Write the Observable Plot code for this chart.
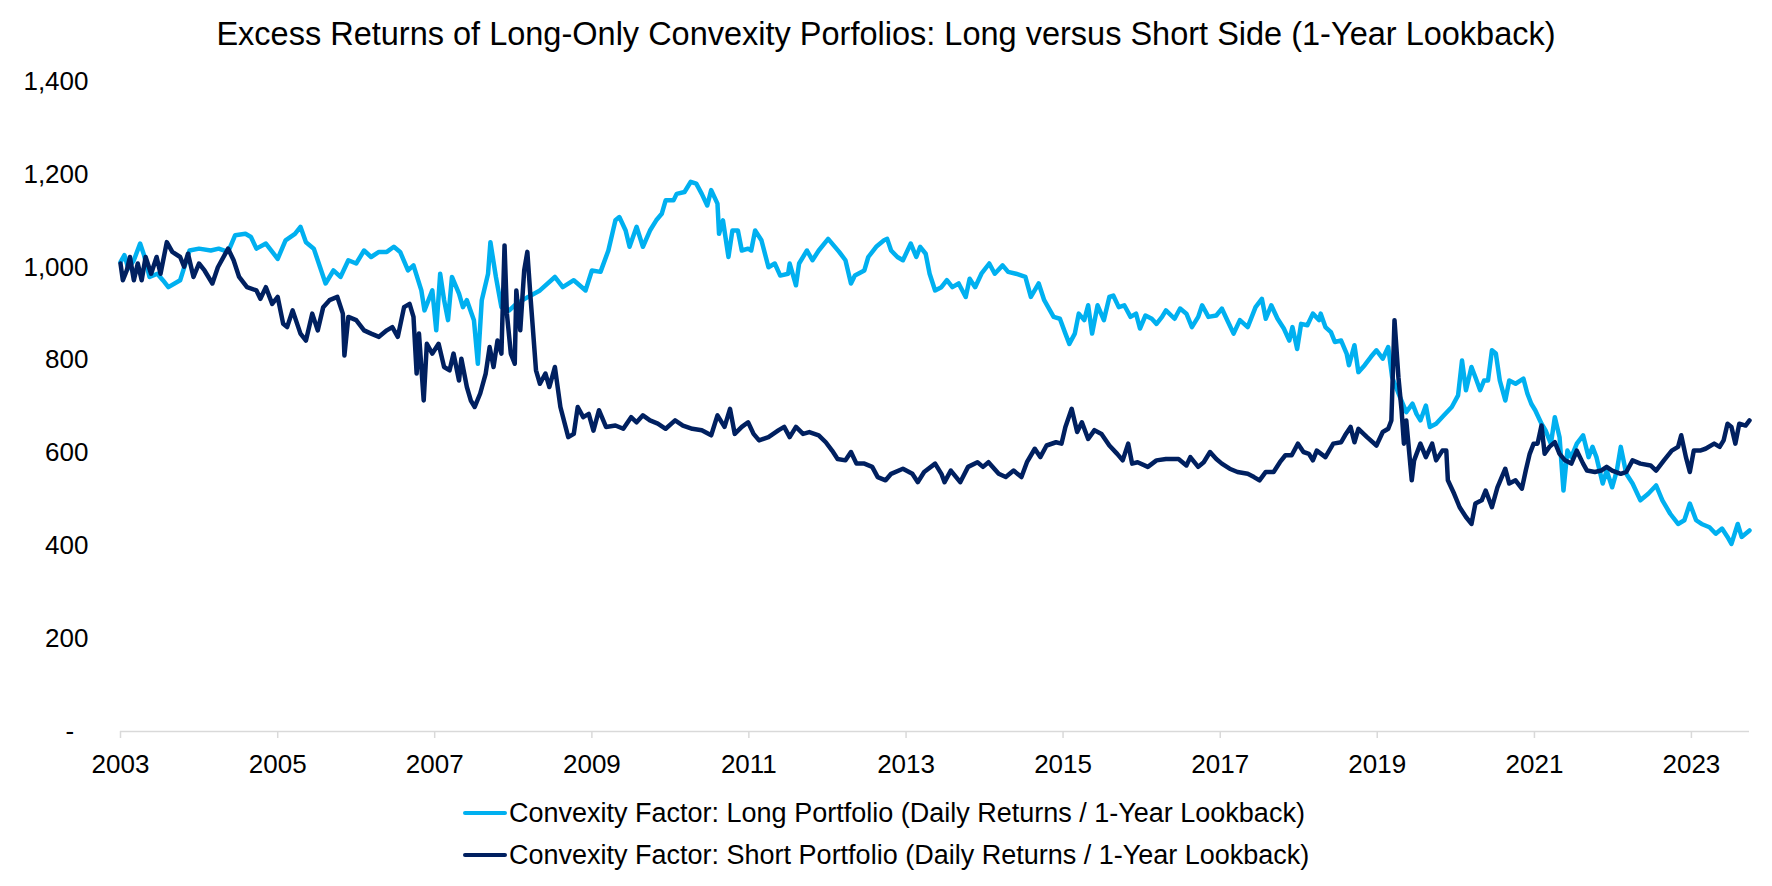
<!DOCTYPE html>
<html>
<head>
<meta charset="utf-8">
<script src="https://cdn.jsdelivr.net/npm/d3@7"></script>
<script src="https://cdn.jsdelivr.net/npm/@observablehq/plot@0.6"></script>
<style>
  html, body { margin: 0; padding: 0; background: #fff; }
  body { width: 1772px; height: 886px; overflow: hidden; font-family: "Liberation Sans", Arial, sans-serif; color: #000; }
  #title { box-sizing: border-box; height: 60px; padding-top: 18px; font-size: 32.5px; line-height: 32px; text-align: center; white-space: nowrap; }
  #chart svg { display: block; }
  #legend { position: relative; height: 86px; }
  .row { position: absolute; left: 463px; height: 42px; display: flex; align-items: center; font-size: 27px; white-space: nowrap; }
  .sw { width: 44px; height: 4.5px; border-radius: 2px; margin-right: 2px; }
</style>
</head>
<body>
<div id="title">Excess Returns of Long-Only Convexity Porfolios: Long versus Short Side (1-Year Lookback)</div>
<div id="chart"></div>
<div id="legend"></div>
<script>
// ---- Data (decimal years and index values) ----
const seriesNames = [
  "Convexity Factor: Long Portfolio (Daily Returns / 1-Year Lookback)",
  "Convexity Factor: Short Portfolio (Daily Returns / 1-Year Lookback)"
];
const seriesColors = ["#00B0F0", "#002060"];

const longYears = [
  2003.00,2003.05,2003.10,2003.17,2003.25,2003.30,2003.37,2003.47,2003.54,2003.61,2003.76,2003.88,
  2004.00,2004.15,2004.25,2004.37,2004.46,2004.59,2004.66,2004.73,2004.85,
  2005.00,2005.10,2005.22,2005.29,2005.36,2005.46,2005.54,2005.61,2005.71,2005.80,2005.90,
  2006.00,2006.10,2006.19,2006.29,2006.39,2006.48,2006.56,2006.66,2006.73,2006.83,2006.87,2006.97,
  2007.02,2007.07,2007.12,2007.17,2007.22,2007.31,2007.36,2007.41,2007.50,2007.55,2007.60,2007.68,2007.71,2007.78,2007.85,2007.95,
  2008.04,2008.19,2008.34,2008.53,2008.63,2008.77,2008.92,
  2009.00,2009.11,2009.21,2009.30,2009.35,2009.43,2009.48,2009.57,2009.65,2009.74,2009.82,2009.89,2009.94,
  2010.04,2010.08,2010.18,2010.26,2010.33,2010.40,2010.47,2010.52,2010.60,2010.62,2010.67,2010.74,2010.79,2010.86,2010.91,2010.99,
  2011.03,2011.08,2011.16,2011.25,2011.33,2011.40,2011.50,2011.52,2011.60,2011.64,2011.74,2011.81,2011.89,
  2012.01,2012.08,2012.15,2012.23,2012.30,2012.35,2012.47,2012.52,2012.62,2012.72,2012.76,2012.81,2012.89,2012.96,
  2013.06,2013.13,2013.18,2013.25,2013.30,2013.37,2013.45,2013.52,2013.59,2013.67,2013.76,2013.81,2013.88,2013.96,
  2014.06,2014.13,2014.23,2014.30,2014.40,2014.52,2014.59,2014.69,2014.76,2014.81,2014.88,2014.96,
  2015.03,2015.08,2015.15,2015.20,2015.27,2015.32,2015.37,2015.44,2015.52,2015.59,2015.64,2015.71,2015.78,2015.86,2015.93,2015.98,
  2016.05,2016.13,2016.19,2016.26,2016.31,2016.42,2016.49,2016.57,2016.64,2016.72,2016.77,2016.85,2016.95,
  2017.02,2017.10,2017.17,2017.25,2017.35,2017.45,2017.53,2017.58,2017.65,2017.73,2017.81,2017.88,2017.92,2017.98,
  2018.03,2018.11,2018.18,2018.26,2018.28,2018.34,2018.41,2018.46,2018.54,2018.61,2018.64,2018.71,2018.76,2018.84,2018.92,2018.99,
  2019.07,2019.14,2019.19,2019.29,2019.37,2019.45,2019.50,2019.55,2019.62,2019.67,2019.75,2019.85,2019.95,
  2020.03,2020.08,2020.13,2020.20,2020.25,2020.31,2020.36,2020.41,2020.46,2020.51,2020.56,2020.63,2020.68,2020.76,2020.86,2020.91,2020.96,
  2021.01,2021.09,2021.14,2021.21,2021.26,2021.32,2021.37,2021.42,2021.47,2021.54,2021.62,2021.69,2021.74,2021.79,2021.87,2021.92,2021.99,
  2022.05,2022.10,2022.17,2022.25,2022.35,2022.45,2022.55,2022.63,2022.73,2022.83,2022.91,2022.98,
  2023.06,2023.13,2023.23,2023.31,2023.39,2023.46,2023.51,2023.59,2023.64,2023.69,2023.74
];
const longValues = [
  1011,1026,997,1015,1051,1026,979,986,972,957,972,1036,
  1040,1036,1040,1033,1069,1072,1065,1040,1051,
  1018,1058,1072,1087,1054,1040,1000,965,993,979,1015,
  1008,1036,1022,1033,1033,1044,1033,993,1004,950,907,950,
  864,986,929,886,979,943,914,929,886,792,929,986,1054,979,914,907,
  921,936,950,979,957,972,950,
  993,990,1036,1101,1108,1079,1044,1087,1044,1079,1101,1115,1144,
  1144,1158,1162,1184,1180,1158,1133,1166,1137,1072,1101,1022,1079,1079,1036,1040,
  1036,1079,1058,1000,1008,982,986,1008,961,1008,1036,1015,1036,
  1061,1047,1033,1015,965,982,993,1022,1044,1058,1061,1036,1022,1015,
  1051,1022,1044,1029,986,950,957,972,957,965,936,975,957,986,
  1008,986,1004,990,986,979,936,965,929,914,893,889,
  857,835,857,900,886,918,857,918,886,936,939,914,918,893,900,868,
  896,889,878,893,907,889,911,900,871,893,918,893,896,
  911,882,857,886,871,914,932,889,918,889,868,842,871,824,
  878,875,900,886,900,871,860,839,842,814,789,832,774,789,807,821,
  803,828,763,720,688,706,684,670,702,656,663,681,699,
  724,799,735,785,763,735,756,756,821,814,756,713,756,749,760,728,706,
  692,663,649,620,677,634,519,605,591,620,638,591,613,591,534,562,526,
  562,613,555,534,498,512,530,498,469,447,455,491,
  455,447,440,426,437,419,404,447,419,426,433
];

const shortYears = [
  2003.00,2003.03,2003.08,2003.12,2003.17,2003.22,2003.27,2003.32,2003.39,2003.46,2003.51,2003.59,2003.66,2003.76,2003.81,2003.86,2003.93,
  2004.00,2004.07,2004.17,2004.24,2004.37,2004.44,2004.51,2004.61,2004.73,2004.78,2004.85,2004.93,
  2005.00,2005.07,2005.12,2005.19,2005.29,2005.36,2005.44,2005.51,2005.58,2005.66,2005.76,2005.83,2005.85,2005.90,
  2006.00,2006.10,2006.19,2006.29,2006.39,2006.46,2006.53,2006.61,2006.68,2006.73,2006.77,2006.80,2006.86,2006.90,2006.97,
  2007.05,2007.12,2007.19,2007.24,2007.31,2007.34,2007.41,2007.46,2007.51,2007.58,2007.65,2007.70,2007.75,2007.80,2007.85,2007.89,2007.92,2007.97,
  2008.02,2008.04,2008.09,2008.14,2008.18,2008.22,2008.29,2008.34,2008.41,2008.46,2008.53,2008.60,2008.70,2008.77,2008.82,2008.89,2008.96,
  2009.02,2009.09,2009.18,2009.30,2009.40,2009.50,2009.57,2009.65,2009.74,2009.84,2009.94,
  2010.06,2010.16,2010.28,2010.40,2010.52,2010.60,2010.69,2010.76,2010.82,2010.91,2010.99,
  2011.06,2011.13,2011.25,2011.38,2011.45,2011.52,2011.60,2011.69,2011.77,2011.89,2011.98,
  2012.06,2012.13,2012.23,2012.30,2012.37,2012.47,2012.57,2012.64,2012.74,2012.81,2012.96,
  2013.08,2013.15,2013.23,2013.37,2013.45,2013.49,2013.57,2013.69,2013.79,2013.91,2013.98,
  2014.05,2014.18,2014.27,2014.37,2014.47,2014.54,2014.64,2014.71,2014.79,2014.91,2014.98,
  2015.03,2015.11,2015.18,2015.24,2015.32,2015.40,2015.49,2015.59,2015.69,2015.76,2015.83,2015.88,2015.95,
  2016.08,2016.19,2016.31,2016.47,2016.57,2016.62,2016.72,2016.79,2016.87,2016.95,
  2017.02,2017.12,2017.22,2017.35,2017.43,2017.50,2017.58,2017.68,2017.76,2017.83,2017.91,2017.99,
  2018.06,2018.13,2018.18,2018.23,2018.34,2018.44,2018.54,2018.59,2018.66,2018.71,2018.76,2018.87,2018.99,
  2019.07,2019.14,2019.18,2019.22,2019.27,2019.31,2019.34,2019.37,2019.44,2019.47,2019.55,2019.62,2019.70,2019.75,2019.83,2019.88,2019.90,2019.98,
  2020.05,2020.13,2020.20,2020.25,2020.33,2020.38,2020.46,2020.53,2020.63,2020.68,2020.76,2020.84,2020.89,2020.94,2020.99,
  2021.04,2021.09,2021.13,2021.19,2021.26,2021.32,2021.39,2021.47,2021.54,2021.62,2021.67,2021.77,2021.85,2021.92,2021.99,
  2022.10,2022.17,2022.25,2022.35,2022.48,2022.55,2022.65,2022.75,2022.83,2022.87,2022.93,2022.98,
  2023.03,2023.11,2023.18,2023.29,2023.36,2023.41,2023.46,2023.51,2023.56,2023.61,2023.69,2023.74
];
const shortValues = [
  1008,972,993,1022,972,1008,972,1022,986,1022,986,1054,1033,1022,1001,1029,979,
  1008,993,965,1000,1040,1015,979,957,950,932,957,921,
  936,878,871,907,857,842,900,864,914,929,936,900,810,893,
  886,864,857,850,864,871,850,914,921,893,771,857,713,835,814,
  835,785,778,814,756,803,742,713,699,728,771,828,785,842,814,1047,900,814,
  792,950,864,993,1033,936,778,749,771,742,785,699,634,641,699,677,684,
  648,692,656,659,652,677,666,681,670,663,652,
  670,659,652,649,638,681,656,695,641,656,666,
  641,627,634,649,656,634,656,641,645,638,623,
  605,587,584,602,577,577,570,548,541,555,566,
  555,537,559,577,555,537,562,537,570,580,570,
  580,555,548,562,548,580,609,591,616,623,620,
  656,695,645,666,630,649,641,616,598,584,620,577,580,
  570,584,587,587,573,591,570,580,602,587,
  577,566,559,555,548,541,559,559,580,595,595,620,
  602,598,584,605,591,620,623,638,656,623,652,634,616,
  645,652,670,886,763,692,620,670,541,584,620,591,620,584,605,605,541,512,
  483,462,447,491,498,519,483,526,566,534,541,523,562,598,620,
  620,659,598,613,623,598,584,577,605,577,562,559,562,570,562,
  555,559,584,577,573,562,584,605,613,638,591,559,
  605,605,609,620,613,627,663,656,620,663,659,670
];

const xTickYears = [2003, 2005, 2007, 2009, 2011, 2013, 2015, 2017, 2019, 2021, 2023];
const yTicks = [0, 200, 400, 600, 800, 1000, 1200, 1400];
const xStartYear = 2003.0, xEndYear = 2023.74;

// ---- Helpers ----
function toDate(y) {
  const yr = Math.floor(y);
  const s = Date.UTC(yr, 0, 1), e = Date.UTC(yr + 1, 0, 1);
  return new Date(s + (y - yr) * (e - s));
}
const longData = longYears.map((y, i) => ({date: toDate(y), value: longValues[i]}));
const shortData = shortYears.map((y, i) => ({date: toDate(y), value: shortValues[i]}));
const fmtComma = d3.format(",");

const chart = Plot.plot({
  width: 1772,
  height: 740,
  marginTop: 21,
  marginBottom: 69,
  marginLeft: 120,
  marginRight: 23,
  style: {fontFamily: "'Liberation Sans', Arial, sans-serif", fontSize: "26px", color: "#000", background: "#fff", overflow: "visible"},
  x: {type: "utc", domain: [toDate(xStartYear), toDate(xEndYear)], label: null},
  y: {domain: [0, 1400], label: null},
  marks: [
    Plot.ruleY([0], {stroke: "#d9d9d9", strokeWidth: 1.5}),
    Plot.axisX({ticks: xTickYears.map(y => toDate(y)), tickSize: 7, tickPadding: 16, stroke: "#d9d9d9", strokeWidth: 1.5, fill: "#000", tickFormat: d3.utcFormat("%Y"), label: null}),
    Plot.axisY({ticks: yTicks, tickSize: 0, tickPadding: 32, fill: "#000", tickFormat: d => d === 0 ? "-\u00a0\u00a0" : fmtComma(d), label: null}),
    Plot.line(longData, {x: "date", y: "value", stroke: seriesColors[0], strokeWidth: 4.5, strokeLinejoin: "round", strokeLinecap: "round"}),
    Plot.line(shortData, {x: "date", y: "value", stroke: seriesColors[1], strokeWidth: 4.5, strokeLinejoin: "round", strokeLinecap: "round"})
  ]
});
document.getElementById("chart").appendChild(chart);

const legend = document.getElementById("legend");
seriesNames.forEach((name, i) => {
  const row = document.createElement("div");
  row.className = "row";
  row.style.top = (i === 0 ? -8 : 34) + "px";
  const sw = document.createElement("div");
  sw.className = "sw";
  sw.style.background = seriesColors[i];
  const tx = document.createElement("span");
  tx.textContent = name;
  row.appendChild(sw);
  row.appendChild(tx);
  legend.appendChild(row);
});
</script>
</body>
</html>
